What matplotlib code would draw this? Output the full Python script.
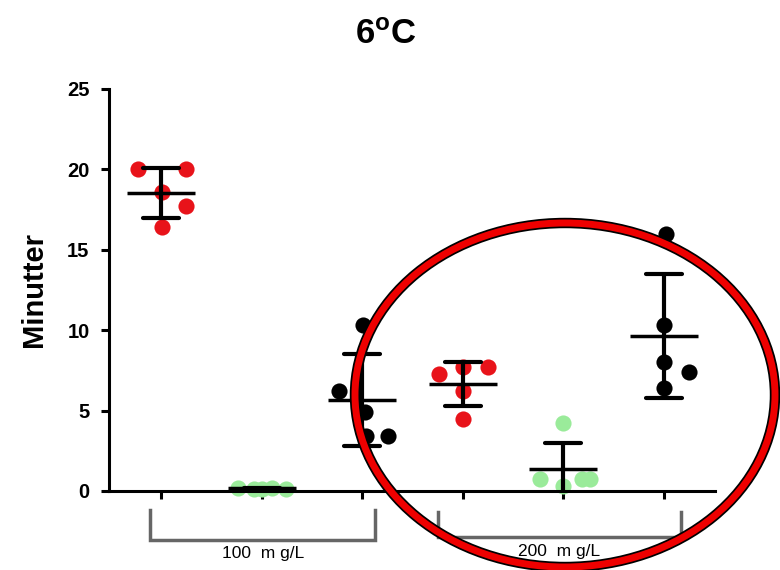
import numpy as np
import matplotlib

matplotlib.use("Agg")
import matplotlib.pyplot as plt
from matplotlib.patches import Ellipse
import matplotlib.patheffects as pe

plt.rcParams["font.family"] = ["Liberation Sans", "DejaVu Sans"]
plt.rcParams["mathtext.fontset"] = "custom"
plt.rcParams["mathtext.bf"] = "Liberation Sans:bold"
plt.rcParams["mathtext.rm"] = "Liberation Sans"

# minutes per replicate, six groups (100 mg/L: red, green, black; 200 mg/L: red, green, black)
g1 = [20.0, 20.0, 18.6, 17.7, 16.4]
g2 = [0.2, 0.15, 0.1, 0.2, 0.15]
g3 = [10.3, 6.2, 4.9, 3.4, 3.4]
g4 = [7.3, 7.7, 7.7, 6.2, 4.5]
g5 = [4.2, 0.75, 0.3, 0.75, 0.75]
g6 = [16.0, 10.3, 8.0, 7.4, 6.4]
groups = [g1, g2, g3, g4, g5, g6]

# horizontal scatter of the points within a group (category units)
jitter = [
    [-0.23, 0.25, 0.01, 0.25, 0.01],
    [-0.24, -0.08, 0.0, 0.1, 0.24],
    [0.01, -0.23, 0.03, 0.04, 0.26],
    [-0.24, 0.0, 0.25, 0.0, 0.0],
    [0.0, -0.23, 0.0, 0.19, 0.27],
    [0.02, 0.0, 0.0, 0.25, 0.0],
]
colors = ["#e8131a", "#9aeb9a", "black", "#e8131a", "#9aeb9a", "black"]
brackets = ["100 mg/L", "200 mg/L"]

fig = plt.figure(figsize=(7.8, 5.7), dpi=100)
ax = fig.add_axes([0.1397, 0.1386, 0.777, 0.7053])

for i, (vals, jit, col) in enumerate(zip(groups, jitter, colors)):
    v = np.array(vals)
    xs = i + np.array(jit)
    ax.scatter(xs, v, s=135, color=col, zorder=2, linewidths=0, clip_on=False)
    m = v.mean()
    sd = v.std(ddof=1)
    ax.plot([i - 0.34, i + 0.34], [m, m], color="black", lw=2.5, zorder=3,
            solid_capstyle="butt")
    ax.plot([i, i], [m - sd, m + sd], color="black", lw=3, zorder=3,
            solid_capstyle="butt")
    for yb in (m - sd, m + sd):
        ax.plot([i - 0.18, i + 0.18], [yb, yb], color="black", lw=3, zorder=3,
                solid_capstyle="round")

ax.set_xlim(-0.52, 5.51)
ax.set_ylim(0, 25)
ax.set_yticks([0, 5, 10, 15, 20, 25])
ax.set_xticks(range(6))
ax.set_xticklabels([])
for s in ("top", "right"):
    ax.spines[s].set_visible(False)
for s in ("left", "bottom"):
    ax.spines[s].set_linewidth(2.2)
ax.tick_params(axis="y", length=6, width=2.2, labelsize=14.5, pad=8)
ax.tick_params(axis="x", length=6, width=2.2)
for lab in ax.get_yticklabels():
    lab.set_fontweight("bold")
ax.set_ylabel("Minutter", fontsize=21, fontweight="bold", labelpad=14)

# concentration brackets below the axis
for (x0, x1, ybot, ybt), lab in zip([(-0.11, 2.13, -3.05, -1.2), (2.75, 5.17, -2.87, -1.3)], brackets):
    ax.plot([x0, x0, x1, x1], [ybt, ybot, ybot, ybt], color="#666666", lw=2.5,
            clip_on=False, solid_joinstyle="miter")
    ax.text((x0 + x1) / 2, ybot - 0.4, lab.replace(" ", "  ").replace("mg", "m g"),
            ha="center", va="top", fontsize=12.5, clip_on=False)

fig.text(0.494, 0.94, r"$\mathbf{6^{o}C}$", ha="center", va="center", fontsize=25)

ell = Ellipse((565 / 780, 1 - 395 / 570), 420 / 780, 344 / 570, transform=fig.transFigure,
              fill=False, edgecolor="#ee0000", lw=5,
              path_effects=[pe.withStroke(linewidth=7.5, foreground="black")])
fig.add_artist(ell)

fig.savefig("out.png", dpi=100)
